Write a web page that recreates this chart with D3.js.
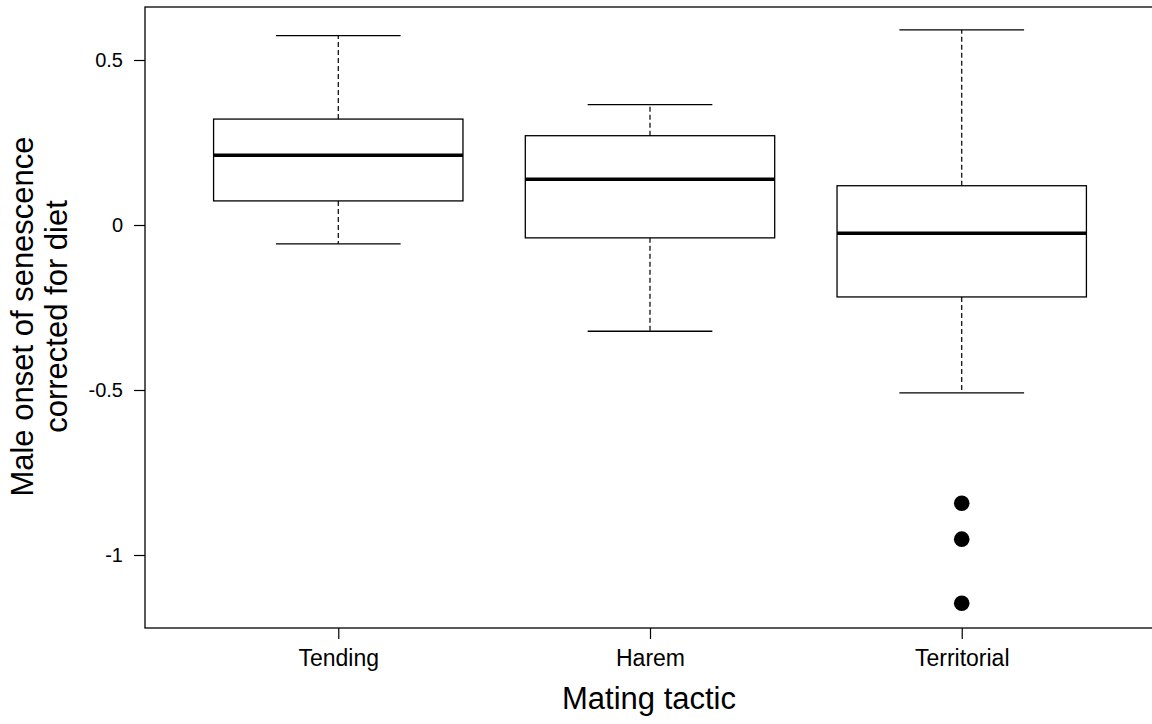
<!DOCTYPE html>
<html>
<head>
<meta charset="utf-8">
<script src="https://cdn.jsdelivr.net/npm/d3@7"></script>
<style>
  html, body { margin: 0; padding: 0; background: #fff; }
  svg { display: block; }
  text { font-family: "Liberation Sans", Arial, sans-serif; fill: #000; }
</style>
</head>
<body>
<svg id="chart" width="1152" height="724"></svg>
<script>
// ---- data ----
const categories   = ["Tending", "Harem", "Territorial"];
const whiskerLow   = [-0.057, -0.322, -0.509];
const q1           = [0.073, -0.039, -0.218];
const medians      = [0.211, 0.1385, -0.025];
const q3           = [0.321, 0.2706, 0.119];
const whiskerHigh  = [0.574, 0.3645, 0.591];
const outlierCategory = ["Territorial", "Territorial", "Territorial"];
const outlierValues   = [-0.843, -0.952, -1.146];
const yTicks = [-1, -0.5, 0, 0.5];
const xTitle = "Mating tactic";
const yTitleLines = ["Male onset of senescence", "corrected for diet"];

(function () {
// ---- layout ----
const svg = d3.select("#chart");
const pLeft = 145, pRight = 1155, pTop = 7, pBottom = 628;

const x = d3.scalePoint().domain(categories).range([pLeft, pRight]).padding(0.62);
const y = d3.scaleLinear().domain([-1.2212, 0.6606]).range([pBottom, pTop]);
const boxW = x.step() * 0.8;
const capW = boxW / 2;

const boxes = categories.map((c, i) => ({
  cat: c, lo: whiskerLow[i], q1: q1[i], med: medians[i], q3: q3[i], hi: whiskerHigh[i]
}));

const g = svg.append("g");

// whiskers (dashed)
g.selectAll(".whisk-up").data(boxes).enter().append("line")
  .attr("x1", d => x(d.cat)).attr("x2", d => x(d.cat))
  .attr("y1", d => y(d.q3)).attr("y2", d => y(d.hi))
  .attr("stroke", "#000").attr("stroke-width", 1.2).attr("stroke-dasharray", "5,3");
g.selectAll(".whisk-dn").data(boxes).enter().append("line")
  .attr("x1", d => x(d.cat)).attr("x2", d => x(d.cat))
  .attr("y1", d => y(d.q1)).attr("y2", d => y(d.lo))
  .attr("stroke", "#000").attr("stroke-width", 1.2).attr("stroke-dasharray", "5,3");

// caps
["hi", "lo"].forEach(k => {
  g.selectAll(".cap-" + k).data(boxes).enter().append("line")
    .attr("x1", d => x(d.cat) - capW / 2).attr("x2", d => x(d.cat) + capW / 2)
    .attr("y1", d => y(d[k])).attr("y2", d => y(d[k]))
    .attr("stroke", "#000").attr("stroke-width", 1.3);
});

// boxes
g.selectAll(".box").data(boxes).enter().append("rect")
  .attr("x", d => x(d.cat) - boxW / 2)
  .attr("width", boxW)
  .attr("y", d => y(d.q3))
  .attr("height", d => y(d.q1) - y(d.q3))
  .attr("fill", "#fff").attr("stroke", "#000").attr("stroke-width", 1.3);

// medians
g.selectAll(".med").data(boxes).enter().append("line")
  .attr("x1", d => x(d.cat) - boxW / 2).attr("x2", d => x(d.cat) + boxW / 2)
  .attr("y1", d => y(d.med)).attr("y2", d => y(d.med))
  .attr("stroke", "#000").attr("stroke-width", 3.5);

// outliers
g.selectAll(".out").data(outlierValues.map((v, i) => ({ cat: outlierCategory[i], v }))).enter()
  .append("circle")
  .attr("cx", d => x(d.cat)).attr("cy", d => y(d.v)).attr("r", 7.8)
  .attr("fill", "#000");

// frame
svg.append("rect")
  .attr("x", pLeft).attr("y", pTop).attr("width", pRight - pLeft).attr("height", pBottom - pTop)
  .attr("fill", "none").attr("stroke", "#000").attr("stroke-width", 1.3);

// y axis
const yAxis = svg.append("g").attr("transform", `translate(${pLeft},0)`)
  .call(d3.axisLeft(y).tickValues(yTicks).tickSize(11).tickPadding(11).tickFormat(d => String(d)));
yAxis.select(".domain").remove();
yAxis.selectAll("line").attr("stroke", "#000").attr("stroke-width", 1.2);
yAxis.selectAll("text").attr("font-size", 20).attr("font-family", "Liberation Sans, Arial, sans-serif");

// x axis
const xAxis = svg.append("g").attr("transform", `translate(0,${pBottom})`)
  .call(d3.axisBottom(x).tickSize(11));
xAxis.select(".domain").remove();
xAxis.selectAll("line").attr("stroke", "#000").attr("stroke-width", 1.2);
xAxis.selectAll("text").attr("font-size", 23).attr("dy", 0).attr("y", 38)
  .attr("font-family", "Liberation Sans, Arial, sans-serif");

// axis titles
svg.append("text").attr("x", (pLeft + pRight) / 2 - 1).attr("y", 709)
  .attr("text-anchor", "middle").attr("font-size", 31).text(xTitle);

yTitleLines.forEach((t, i) => {
  svg.append("text")
    .attr("transform", `translate(${33 + i * 34},${(pTop + pBottom) / 2 - 1}) rotate(-90)`)
    .attr("text-anchor", "middle").attr("font-size", 31).text(t);
});
})();
</script>
</body>
</html>
